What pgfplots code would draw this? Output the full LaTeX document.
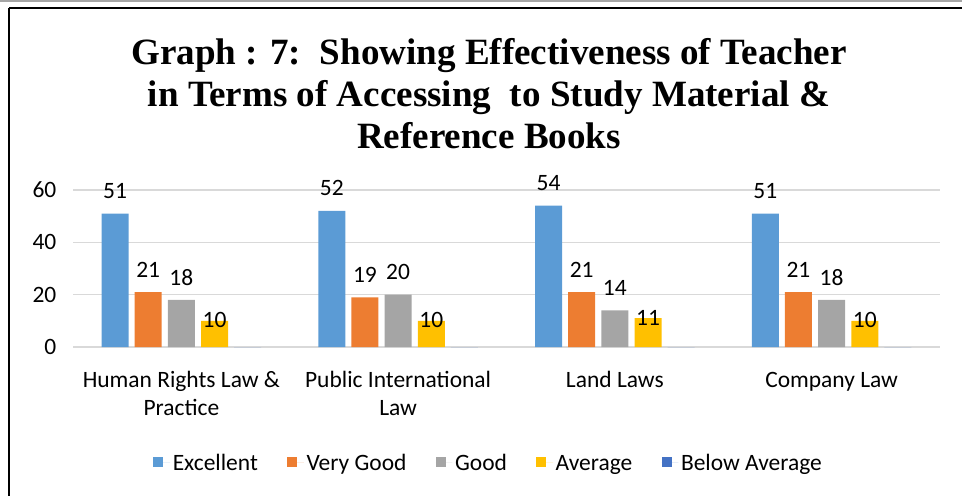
\documentclass[border=0pt]{standalone}
\usepackage{fontspec}
\setmainfont{Carlito}
\newfontfamily\titlefont{Liberation Serif}
\usepackage{pgfplots}
\pgfplotsset{compat=1.18}

\definecolor{cExc}{HTML}{5B9BD5}
\definecolor{cVG}{HTML}{ED7D31}
\definecolor{cGood}{HTML}{A5A5A5}
\definecolor{cAvg}{HTML}{FFC000}
\definecolor{cBA}{HTML}{4472C4}
\definecolor{cGrid}{HTML}{D9D9D9}

\newcommand{\lblfont}{\fontsize{17.6}{21}\selectfont}
\newcommand{\ttlfont}{\titlefont\bfseries\fontsize{27.8}{33}\selectfont}

\begin{document}
\begin{tikzpicture}[x=0.75pt,y=0.75pt]
\path[use as bounding box] (0,0) rectangle (962,496);
% frame
\draw[gray!70,line width=1.2pt] (0,495) -- (962,495);
\draw[black,line width=2.2pt] (9,488) -- (962,488);
\draw[black,line width=2.2pt] (9,488) -- (9,0);
% title
\node[anchor=base,font=\ttlfont] at (489,431) {Graph : 7:\ \ Showing Effectiveness of Teacher};
\node[anchor=base,font=\ttlfont] at (489,389) {in Terms of Accessing\ \ to Study Material \&};
\node[anchor=base,font=\ttlfont] at (489,347) {Reference Books};
\coordinate (axpos) at (73,149);

\begin{axis}[
  at={(axpos)}, anchor=south west,
  scale only axis,
  width=650.25pt, height=117.75pt,
  ymin=0, ymax=60,
  xmin=-0.5, xmax=3.5,
  ytick={0,20,40,60},
  xtick={0,1,2,3},
  xticklabels={{\strut Human Rights Law \&\\Practice},{\strut Public International\\Law},{\strut Land Laws},{\strut Company Law}},
  xticklabel style={align=center, font=\lblfont, anchor=north, yshift=-12pt},
  yticklabel style={font=\lblfont, xshift=-9pt},
  /pgf/number format/assume math mode=true,
  axis line style={draw=none},
  major tick length=0pt,
  ymajorgrids,
  grid style={cGrid, line width=1.1pt},
  ybar,
  bar width=0.1246,
  nodes near coords,
  every node near coord/.append style={font=\lblfont, anchor=center, yshift=17pt, text=black},
  legend style={at={(0.4798,-0.7325)}, anchor=center, draw=none, font=\lblfont,
    legend columns=5, /tikz/every even column/.append style={column sep=20pt}},
  legend image code/.code={\fill[#1] (0pt,-3.75pt) rectangle (7.5pt,3.75pt);
    \path (0pt,0pt) -- (12.5pt,0pt);},
]
\addplot[fill=cExc, draw=none, bar shift=-0.306] coordinates {(0,51) (1,52) (2,54) (3,51)};
\addplot[fill=cVG, draw=none, bar shift=-0.153] coordinates {(0,21) (1,19) (2,21) (3,21)};
\addplot[fill=cGood, draw=none, bar shift=0] coordinates {(0,18) (1,20) (2,14) (3,18)};
\addplot[fill=cAvg, draw=none, bar shift=0.153,
  every node near coord/.append style={yshift=-16.5pt}] coordinates {(0,10) (1,10) (2,11) (3,10)};
\addplot[fill=cBA, draw=none, bar shift=0.306, nodes near coords={}] coordinates {(0,0) (1,0) (2,0) (3,0)};
\legend{\strut Excellent, \strut Very Good, \strut Good, \strut Average, \strut Below Average}
\end{axis}
\end{tikzpicture}
\end{document}
